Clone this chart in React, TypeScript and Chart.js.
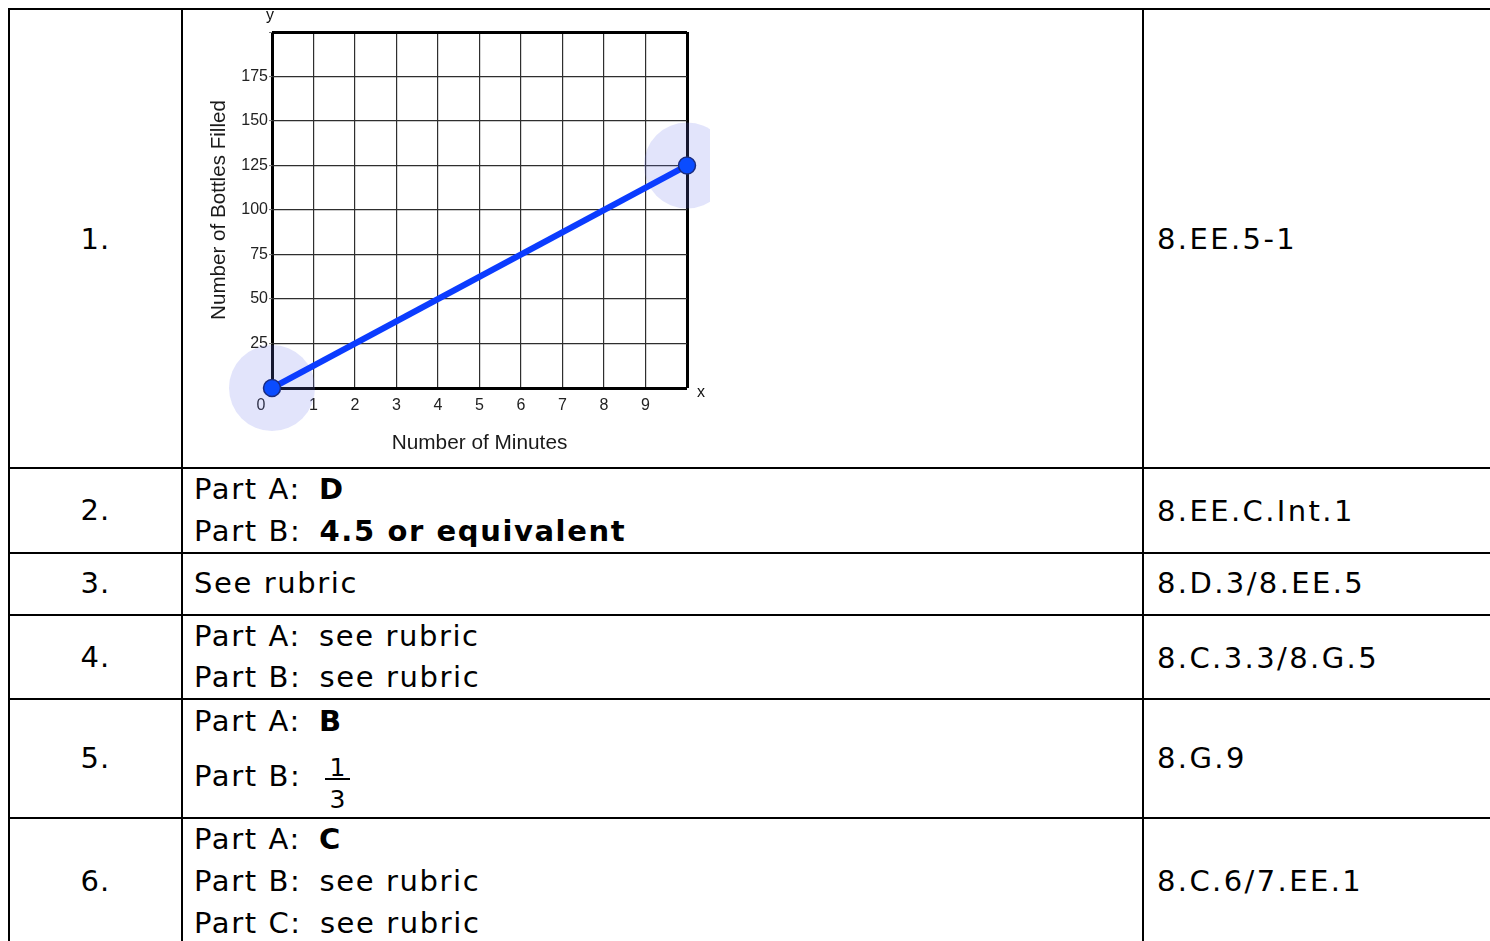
import React, { useEffect, useRef } from 'react';
import { Chart, registerables } from 'chart.js';

Chart.register(...registerables);

// ---------- chart data ----------
const minutes = [0, 10];
const bottlesFilled = [0, 125];
const xTickLabels = ['0', '1', '2', '3', '4', '5', '6', '7', '8', '9', ''];
const yTickLabels = ['', '25', '50', '75', '100', '125', '150', '175', ''];
const xTitle = 'Number of Minutes';
const yTitle = 'Number of Bottles Filled';
const xLetter = 'x';
const yLetter = 'y';

// ---------- table data ----------
const itemNumbers = ['1.', '2.', '3.', '4.', '5.', '6.'];
const standards = ['8.EE.5-1', '8.EE.C.Int.1', '8.D.3/8.EE.5', '8.C.3.3/8.G.5', '8.G.9', '8.C.6/7.EE.1'];
const answers: [string, string][][] = [
  [],
  [['Part A:\u2009 ', 'D'], ['Part B:\u2009 ', '4.5 or equivalent']],
  [['See rubric', '']],
  [['Part A:\u2009 see rubric', ''], ['Part B:\u2009 see rubric', '']],
  [['Part A:\u2009 ', 'B'], ['Part B:\u2009 ', '']],
  [['Part A:\u2009 ', 'C'], ['Part B:\u2009 see rubric', ''], ['Part C:\u2009 see rubric', '']],
];
const fractionNumerator = '1';
const fractionDenominator = '3';

// ---------- layout ----------
const hLines = [8, 467, 552, 614, 698, 817];
const vLines = [8, 181, 1142];
const numBase = [250, 521, 594, 668, 769, 892];
const stdBase = [250, 522, 594, 669, 769, 892];
const ansBase = [[], [500, 542], [594], [647, 688], [732, 787], [850, 892, 934]];

const FONT = '"DejaVu Sans", Verdana, sans-serif';
const CHART_FONT = '"Liberation Sans", Arial, Helvetica, sans-serif';

function Txt(props: {
  x: number; base: number; size?: number; spacing?: number; width?: number; center?: boolean;
  children: React.ReactNode;
}) {
  const size = props.size ?? 29;
  const top = props.base - 0.846 * size;
  return (
    <div
      style={{
        position: 'absolute',
        left: props.x,
        top,
        width: props.width,
        textAlign: props.center ? 'center' : 'left',
        fontFamily: FONT,
        fontSize: size,
        lineHeight: `${size}px`,
        letterSpacing: props.spacing ?? 1.1,
        whiteSpace: 'pre',
        color: '#000',
      }}
    >
      {props.children}
    </div>
  );
}

const isEdge = (v: number, a: number, b: number) => v === a || v === b;

function LineChart() {
  const ref = useRef<HTMLCanvasElement | null>(null);
  useEffect(() => {
    if (!ref.current) return;
    const pts = minutes.map((m, i) => ({ x: m, y: bottlesFilled[i] }));
    const letters = {
      id: 'axisLetters',
      afterDraw(chart: any) {
        const { ctx, chartArea } = chart;
        ctx.save();
        ctx.font = `16px ${CHART_FONT}`;
        ctx.fillStyle = '#111';
        ctx.textAlign = 'center';
        ctx.textBaseline = 'middle';
        ctx.fillText(yLetter, chartArea.left - 2, chartArea.top - 16);
        ctx.fillText(xLetter, chartArea.right + 14, chartArea.bottom + 5);
        ctx.restore();
      },
    };
    const chart = new Chart(ref.current, {
      type: 'line',
      data: {
        datasets: [
          {
            label: 'line',
            data: pts,
            borderColor: '#0b3cff',
            borderWidth: 6,
            pointRadius: 8.5,
            pointBackgroundColor: '#0a4cff',
            pointBorderColor: '#1a2c80',
            pointBorderWidth: 1.5,
            clip: false as any,
            order: 1,
          },
          {
            label: 'halo',
            data: pts,
            showLine: false,
            pointRadius: 43,
            pointBackgroundColor: 'rgba(110,120,235,0.2)',
            pointBorderWidth: 0,
            pointBorderColor: 'rgba(0,0,0,0)',
            clip: false as any,
            order: 2,
          },
        ],
      },
      options: {
        animation: false,
        responsive: false,
        events: [],
        layout: { autoPadding: false, padding: { left: 0, right: 23, top: 22, bottom: 0 } },
        plugins: { legend: { display: false }, tooltip: { enabled: false } },
        scales: {
          x: {
            type: 'linear',
            min: 0,
            max: 10,
            afterFit: (s: any) => { s.height = 78; },
            border: { display: false },
            grid: {
              color: (c: any) => (c.tick && isEdge(c.tick.value, 0, 10) ? '#000' : '#2e2e2e'),
              lineWidth: (c: any) => (c.tick && isEdge(c.tick.value, 0, 10) ? 3 : 1.2),
              drawTicks: false,
            },
            ticks: {
              stepSize: 1,
              autoSkip: false,
              maxRotation: 0,
              padding: 8,
              color: '#222',
              font: { family: CHART_FONT, size: 16 },
              callback: (v: any) => {
                const l = xTickLabels[Number(v)] ?? '';
                return Number(v) === 0 ? l + '     ' : l;
              },
            },
            title: {
              display: true,
              text: xTitle,
              color: '#1a1a1a',
              font: { family: CHART_FONT, size: 20.8 },
              padding: { top: 0, bottom: 10 },
            },
          },
          y: {
            type: 'linear',
            min: 0,
            max: 200,
            afterFit: (s: any) => { s.width = 82; },
            border: { display: false },
            grid: {
              color: (c: any) => (c.tick && isEdge(c.tick.value, 0, 200) ? '#000' : '#2e2e2e'),
              lineWidth: (c: any) => (c.tick && isEdge(c.tick.value, 0, 200) ? 3 : 1.2),
              drawTicks: true,
              tickLength: 3,
              tickColor: '#777',
              tickWidth: 1,
            },
            ticks: {
              stepSize: 25,
              autoSkip: false,
              padding: 1,
              color: '#222',
              font: { family: CHART_FONT, size: 16 },
              callback: (v: any) => yTickLabels[Math.round(Number(v) / 25)] ?? '',
            },
            title: {
              display: true,
              text: yTitle,
              color: '#1a1a1a',
              font: { family: CHART_FONT, size: 20.6 },
              padding: { top: 17, bottom: 0 },
            },
          },
        },
      },
      plugins: [letters],
    } as any);
    return () => chart.destroy();
  }, []);
  return (
    <canvas
      ref={ref}
      width={520}
      height={456}
      style={{ position: 'absolute', left: 190, top: 10, width: 520, height: 456 }}
    />
  );
}

export default function App() {
  return (
    <div
      style={{
        position: 'absolute',
        left: 0,
        top: 0,
        width: 1490,
        height: 941,
        overflow: 'hidden',
        background: '#fff',
      }}
    >
      {hLines.map((y, i) => (
        <div key={'h' + i} style={{ position: 'absolute', left: 8, top: y, width: 1500, height: 2, background: '#000' }} />
      ))}
      {vLines.map((x, i) => (
        <div key={'v' + i} style={{ position: 'absolute', left: x, top: 8, width: 2, height: 960, background: '#000' }} />
      ))}

      <LineChart />

      {itemNumbers.map((n, i) => (
        <Txt key={'n' + i} x={10} width={171} center base={numBase[i]}>{n}</Txt>
      ))}
      {standards.map((s, i) => (
        <Txt key={'s' + i} x={1157} base={stdBase[i]} spacing={2.4}>{s}</Txt>
      ))}
      {answers.map((rows, i) =>
        rows.map((r, j) => (
          <Txt key={'a' + i + '-' + j} x={194} base={ansBase[i][j]} spacing={1.6}>
            {r[0]}
            {r[1] ? <span style={{ fontWeight: 'bold' }}>{r[1]}</span> : null}
          </Txt>
        ))
      )}

      {/* fraction 1/3 in item 5, Part B */}
      <Txt x={324} width={27} center base={776} size={25} spacing={0}>{fractionNumerator}</Txt>
      <div style={{ position: 'absolute', left: 325, top: 778, width: 25, height: 2, background: '#000' }} />
      <Txt x={324} width={27} center base={808} size={25} spacing={0}>{fractionDenominator}</Txt>
    </div>
  );
}
